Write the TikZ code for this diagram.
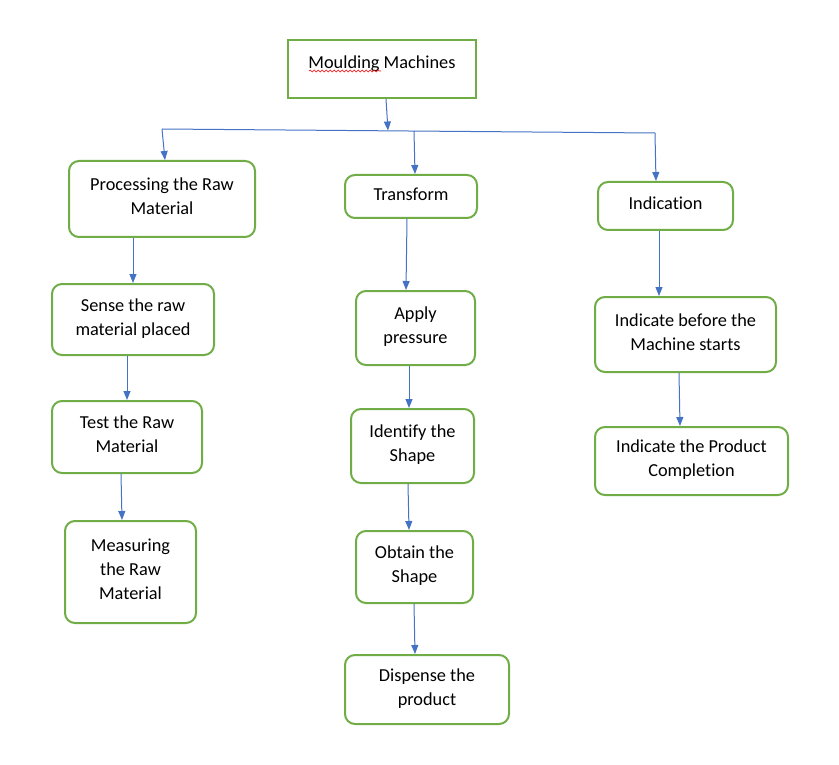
\documentclass[tikz,border=0pt]{standalone}
\usepackage{fontspec}
\setmainfont{Carlito}[Ligatures=NoCommon]
\usepackage{tikz}
\usetikzlibrary{arrows.meta,decorations.pathmorphing}

\definecolor{boxgreen}{HTML}{70AD47}
\definecolor{lineblue}{HTML}{4472C4}

\begin{document}
\begin{tikzpicture}[x=1pt,y=-1pt,>={Triangle[length=9pt,width=7pt]},
  box/.style={draw=boxgreen,line width=2pt,rounded corners=10pt,align=center,
    font=\fontsize{18.3}{24}\selectfont,inner sep=2pt,text depth=5pt},
  link/.style={draw=lineblue,line width=1pt},
  arr/.style={link,->}]
  \useasboundingbox (0,0) rectangle (839,765);

  % top level
  \node (mould) [box,rounded corners=0pt,minimum width=188pt,minimum height=58pt] at (382,69)
    {\raisebox{4pt}[\height][\depth]{Moulding Machines}};
  \draw[red,line width=0.6pt,decorate,decoration={snake,amplitude=0.9pt,segment length=4pt}]
    (309,71) -- (381,71);

  % branches
  \node (proc) [box,minimum width=186pt,minimum height=76pt] at (162,199) {Processing the Raw\\Material};
  \node (trans) [box,minimum width=132pt,minimum height=43pt] at (411,196.5) {Transform};
  \node (indic) [box,minimum width=135pt,minimum height=48pt] at (665.5,206) {Indication};

  % left column
  \node (sense) [box,minimum width=162pt,minimum height=71pt] at (133,319.5) {Sense the raw\\material placed};
  \node (test) [box,minimum width=150pt,minimum height=72pt] at (127,437) {Test the Raw\\Material};
  \node (meas) [box,minimum width=131pt,minimum height=102pt] at (130.5,572) {Measuring\\the Raw\\Material};

  % middle column
  \node (apply) [box,minimum width=119pt,minimum height=74pt] at (415.5,328) {Apply\\pressure};
  \node (ident) [box,minimum width=123pt,minimum height=74pt] at (412.5,446) {Identify the\\Shape};
  \node (obtain) [box,minimum width=117pt,minimum height=72pt] at (414.5,567) {Obtain the\\Shape};
  \node (disp) [box,minimum width=164pt,minimum height=69pt] at (427,689.5) {Dispense the\\product};

  % right column
  \node (before) [box,minimum width=181pt,minimum height=75pt] at (685.5,334.5) {Indicate before the\\Machine starts};
  \node (compl) [box,minimum width=193pt,minimum height=68pt] at (691.5,461) {Indicate the Product\\Completion};

  % bus
  \coordinate (lft) at (162,129);
  \coordinate (hub) at (388,130.5);
  \coordinate (mid) at (414,131);
  \coordinate (rgt) at (655,133);
  \draw[arr] ([xshift=4pt]mould.south) -- (hub);
  \draw[link] (lft) -- (rgt);
  \draw[arr] (lft) -- ([xshift=3pt]proc.north);
  \draw[arr] (mid) -- ([xshift=4pt]trans.north);
  \draw[arr] (rgt) -- ([xshift=-9.5pt]indic.north);

  % column links
  \draw[arr] ([xshift=-29pt]proc.south) -- (sense.north);
  \draw[arr] ([xshift=-6pt]sense.south) -- (test.north);
  \draw[arr] ([xshift=-6pt]test.south) -- ([xshift=-8.5pt]meas.north);
  \draw[arr] ([xshift=-4pt]trans.south) -- ([xshift=-9.5pt]apply.north);
  \draw[arr] ([xshift=-6.5pt]apply.south) -- ([xshift=-3.5pt]ident.north);
  \draw[arr] ([xshift=-4.5pt]ident.south) -- ([xshift=-5.5pt]obtain.north);
  \draw[arr] ([xshift=-0.5pt]obtain.south) -- ([xshift=-12pt]disp.north);
  \draw[arr] ([xshift=-6.5pt]indic.south) -- ([xshift=-26.5pt]before.north);
  \draw[arr] ([xshift=-6.5pt]before.south) -- ([xshift=-11.5pt]compl.north);
\end{tikzpicture}
\end{document}
